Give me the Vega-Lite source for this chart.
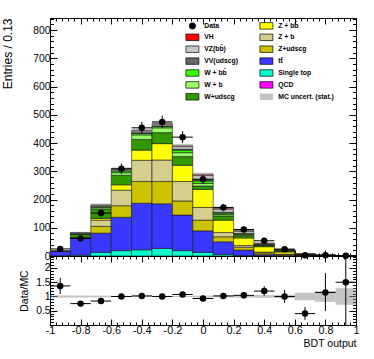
{
  "$schema": "https://vega.github.io/schema/vega-lite/v6.json",
  "padding": {"left": 1, "top": 13, "right": 5, "bottom": 5},
  "spacing": 0,
  "bounds": "flush",
  "config": {
    "font": "Liberation Sans",
    "view": {"stroke": "black", "strokeWidth": 1},
    "axis": {"labelFont": "Liberation Sans", "labelFontSize": 10.3, "labelColor": "black", "titleFont": "Liberation Sans", "titleFontSize": 10.5, "titleFontWeight": "normal", "titleColor": "black", "domain": false, "grid": false, "tickColor": "black", "labelFlush": false, "labelOverlap": false}
  },
  "datasets": {
    "mc": [
      {"lo": -1, "hi": -0.8667, "process": "Single top", "value": 1},
      {"lo": -1, "hi": -0.8667, "process": "tt\u0304", "value": 15},
      {"lo": -1, "hi": -0.8667, "process": "Z+udscg", "value": 0.5},
      {"lo": -1, "hi": -0.8667, "process": "Z + b", "value": 0.3},
      {"lo": -1, "hi": -0.8667, "process": "Z + bb\u0304", "value": 0.2},
      {"lo": -1, "hi": -0.8667, "process": "W+udscg", "value": 0.5},
      {"lo": -1, "hi": -0.8667, "process": "W + b", "value": 0.2},
      {"lo": -1, "hi": -0.8667, "process": "W + bb\u0304", "value": 0.1},
      {"lo": -1, "hi": -0.8667, "process": "VV(udscg)", "value": 0.5},
      {"lo": -1, "hi": -0.8667, "process": "VZ(bb\u0304)", "value": 0.5},
      {"lo": -0.8667, "hi": -0.7333, "process": "Single top", "value": 3},
      {"lo": -0.8667, "hi": -0.7333, "process": "tt\u0304", "value": 60},
      {"lo": -0.8667, "hi": -0.7333, "process": "Z+udscg", "value": 1},
      {"lo": -0.8667, "hi": -0.7333, "process": "Z + b", "value": 1},
      {"lo": -0.8667, "hi": -0.7333, "process": "Z + bb\u0304", "value": 0.5},
      {"lo": -0.8667, "hi": -0.7333, "process": "W+udscg", "value": 11},
      {"lo": -0.8667, "hi": -0.7333, "process": "W + b", "value": 1},
      {"lo": -0.8667, "hi": -0.7333, "process": "W + bb\u0304", "value": 0.5},
      {"lo": -0.8667, "hi": -0.7333, "process": "VV(udscg)", "value": 3},
      {"lo": -0.8667, "hi": -0.7333, "process": "VZ(bb\u0304)", "value": 1.5},
      {"lo": -0.8667, "hi": -0.7333, "process": "VH", "value": 0.1},
      {"lo": -0.7333, "hi": -0.6, "process": "Single top", "value": 13},
      {"lo": -0.7333, "hi": -0.6, "process": "tt\u0304", "value": 68},
      {"lo": -0.7333, "hi": -0.6, "process": "Z+udscg", "value": 24},
      {"lo": -0.7333, "hi": -0.6, "process": "Z + b", "value": 22},
      {"lo": -0.7333, "hi": -0.6, "process": "Z + bb\u0304", "value": 6},
      {"lo": -0.7333, "hi": -0.6, "process": "W+udscg", "value": 33},
      {"lo": -0.7333, "hi": -0.6, "process": "W + b", "value": 5},
      {"lo": -0.7333, "hi": -0.6, "process": "W + bb\u0304", "value": 3},
      {"lo": -0.7333, "hi": -0.6, "process": "VV(udscg)", "value": 2},
      {"lo": -0.7333, "hi": -0.6, "process": "VZ(bb\u0304)", "value": 4},
      {"lo": -0.7333, "hi": -0.6, "process": "VH", "value": 0.3},
      {"lo": -0.6, "hi": -0.4667, "process": "Single top", "value": 19},
      {"lo": -0.6, "hi": -0.4667, "process": "tt\u0304", "value": 118},
      {"lo": -0.6, "hi": -0.4667, "process": "Z+udscg", "value": 41},
      {"lo": -0.6, "hi": -0.4667, "process": "Z + b", "value": 55},
      {"lo": -0.6, "hi": -0.4667, "process": "Z + bb\u0304", "value": 19},
      {"lo": -0.6, "hi": -0.4667, "process": "W+udscg", "value": 34},
      {"lo": -0.6, "hi": -0.4667, "process": "W + b", "value": 9},
      {"lo": -0.6, "hi": -0.4667, "process": "W + bb\u0304", "value": 6},
      {"lo": -0.6, "hi": -0.4667, "process": "VV(udscg)", "value": 2},
      {"lo": -0.6, "hi": -0.4667, "process": "VZ(bb\u0304)", "value": 4},
      {"lo": -0.6, "hi": -0.4667, "process": "VH", "value": 0.5},
      {"lo": -0.4667, "hi": -0.3333, "process": "Single top", "value": 22},
      {"lo": -0.4667, "hi": -0.3333, "process": "tt\u0304", "value": 165},
      {"lo": -0.4667, "hi": -0.3333, "process": "Z+udscg", "value": 77},
      {"lo": -0.4667, "hi": -0.3333, "process": "Z + b", "value": 75},
      {"lo": -0.4667, "hi": -0.3333, "process": "Z + bb\u0304", "value": 36},
      {"lo": -0.4667, "hi": -0.3333, "process": "W+udscg", "value": 38},
      {"lo": -0.4667, "hi": -0.3333, "process": "W + b", "value": 16},
      {"lo": -0.4667, "hi": -0.3333, "process": "W + bb\u0304", "value": 5},
      {"lo": -0.4667, "hi": -0.3333, "process": "VV(udscg)", "value": 3},
      {"lo": -0.4667, "hi": -0.3333, "process": "VZ(bb\u0304)", "value": 6},
      {"lo": -0.4667, "hi": -0.3333, "process": "VH", "value": 1},
      {"lo": -0.3333, "hi": -0.2, "process": "Single top", "value": 27},
      {"lo": -0.3333, "hi": -0.2, "process": "tt\u0304", "value": 158},
      {"lo": -0.3333, "hi": -0.2, "process": "Z+udscg", "value": 79},
      {"lo": -0.3333, "hi": -0.2, "process": "Z + b", "value": 76},
      {"lo": -0.3333, "hi": -0.2, "process": "Z + bb\u0304", "value": 58},
      {"lo": -0.3333, "hi": -0.2, "process": "W+udscg", "value": 39},
      {"lo": -0.3333, "hi": -0.2, "process": "W + b", "value": 17},
      {"lo": -0.3333, "hi": -0.2, "process": "W + bb\u0304", "value": 5},
      {"lo": -0.3333, "hi": -0.2, "process": "VV(udscg)", "value": 2},
      {"lo": -0.3333, "hi": -0.2, "process": "VZ(bb\u0304)", "value": 6},
      {"lo": -0.3333, "hi": -0.2, "process": "VH", "value": 1},
      {"lo": -0.2, "hi": -0.0667, "process": "Single top", "value": 19},
      {"lo": -0.2, "hi": -0.0667, "process": "tt\u0304", "value": 126},
      {"lo": -0.2, "hi": -0.0667, "process": "Z+udscg", "value": 50},
      {"lo": -0.2, "hi": -0.0667, "process": "Z + b", "value": 69},
      {"lo": -0.2, "hi": -0.0667, "process": "Z + bb\u0304", "value": 57},
      {"lo": -0.2, "hi": -0.0667, "process": "W+udscg", "value": 31},
      {"lo": -0.2, "hi": -0.0667, "process": "W + b", "value": 14},
      {"lo": -0.2, "hi": -0.0667, "process": "W + bb\u0304", "value": 9},
      {"lo": -0.2, "hi": -0.0667, "process": "VV(udscg)", "value": 3},
      {"lo": -0.2, "hi": -0.0667, "process": "VZ(bb\u0304)", "value": 10},
      {"lo": -0.2, "hi": -0.0667, "process": "VH", "value": 2},
      {"lo": -0.0667, "hi": 0.0667, "process": "Single top", "value": 13},
      {"lo": -0.0667, "hi": 0.0667, "process": "tt\u0304", "value": 76},
      {"lo": -0.0667, "hi": 0.0667, "process": "Z+udscg", "value": 38},
      {"lo": -0.0667, "hi": 0.0667, "process": "Z + b", "value": 45},
      {"lo": -0.0667, "hi": 0.0667, "process": "Z + bb\u0304", "value": 64},
      {"lo": -0.0667, "hi": 0.0667, "process": "W+udscg", "value": 12},
      {"lo": -0.0667, "hi": 0.0667, "process": "W + b", "value": 9},
      {"lo": -0.0667, "hi": 0.0667, "process": "W + bb\u0304", "value": 9},
      {"lo": -0.0667, "hi": 0.0667, "process": "VV(udscg)", "value": 4},
      {"lo": -0.0667, "hi": 0.0667, "process": "VZ(bb\u0304)", "value": 15},
      {"lo": -0.0667, "hi": 0.0667, "process": "VH", "value": 4},
      {"lo": 0.0667, "hi": 0.2, "process": "Single top", "value": 5},
      {"lo": 0.0667, "hi": 0.2, "process": "tt\u0304", "value": 45},
      {"lo": 0.0667, "hi": 0.2, "process": "Z+udscg", "value": 18},
      {"lo": 0.0667, "hi": 0.2, "process": "Z + b", "value": 15},
      {"lo": 0.0667, "hi": 0.2, "process": "Z + bb\u0304", "value": 44},
      {"lo": 0.0667, "hi": 0.2, "process": "W+udscg", "value": 15},
      {"lo": 0.0667, "hi": 0.2, "process": "W + b", "value": 5},
      {"lo": 0.0667, "hi": 0.2, "process": "W + bb\u0304", "value": 5},
      {"lo": 0.0667, "hi": 0.2, "process": "VV(udscg)", "value": 3},
      {"lo": 0.0667, "hi": 0.2, "process": "VZ(bb\u0304)", "value": 11},
      {"lo": 0.0667, "hi": 0.2, "process": "VH", "value": 3},
      {"lo": 0.2, "hi": 0.3333, "process": "Single top", "value": 2},
      {"lo": 0.2, "hi": 0.3333, "process": "tt\u0304", "value": 19},
      {"lo": 0.2, "hi": 0.3333, "process": "Z+udscg", "value": 10},
      {"lo": 0.2, "hi": 0.3333, "process": "Z + b", "value": 6},
      {"lo": 0.2, "hi": 0.3333, "process": "Z + bb\u0304", "value": 27},
      {"lo": 0.2, "hi": 0.3333, "process": "W+udscg", "value": 8},
      {"lo": 0.2, "hi": 0.3333, "process": "W + b", "value": 3},
      {"lo": 0.2, "hi": 0.3333, "process": "W + bb\u0304", "value": 3},
      {"lo": 0.2, "hi": 0.3333, "process": "VV(udscg)", "value": 2},
      {"lo": 0.2, "hi": 0.3333, "process": "VZ(bb\u0304)", "value": 8},
      {"lo": 0.2, "hi": 0.3333, "process": "VH", "value": 2},
      {"lo": 0.3333, "hi": 0.4667, "process": "Single top", "value": 1},
      {"lo": 0.3333, "hi": 0.4667, "process": "tt\u0304", "value": 4},
      {"lo": 0.3333, "hi": 0.4667, "process": "Z+udscg", "value": 6},
      {"lo": 0.3333, "hi": 0.4667, "process": "Z + b", "value": 3},
      {"lo": 0.3333, "hi": 0.4667, "process": "Z + bb\u0304", "value": 19},
      {"lo": 0.3333, "hi": 0.4667, "process": "W+udscg", "value": 4},
      {"lo": 0.3333, "hi": 0.4667, "process": "W + b", "value": 1.5},
      {"lo": 0.3333, "hi": 0.4667, "process": "W + bb\u0304", "value": 1.5},
      {"lo": 0.3333, "hi": 0.4667, "process": "VV(udscg)", "value": 1},
      {"lo": 0.3333, "hi": 0.4667, "process": "VZ(bb\u0304)", "value": 3},
      {"lo": 0.3333, "hi": 0.4667, "process": "VH", "value": 1.5},
      {"lo": 0.4667, "hi": 0.6, "process": "Single top", "value": 0.5},
      {"lo": 0.4667, "hi": 0.6, "process": "tt\u0304", "value": 1.5},
      {"lo": 0.4667, "hi": 0.6, "process": "Z+udscg", "value": 3},
      {"lo": 0.4667, "hi": 0.6, "process": "Z + b", "value": 1.5},
      {"lo": 0.4667, "hi": 0.6, "process": "Z + bb\u0304", "value": 8},
      {"lo": 0.4667, "hi": 0.6, "process": "W+udscg", "value": 3},
      {"lo": 0.4667, "hi": 0.6, "process": "W + b", "value": 1},
      {"lo": 0.4667, "hi": 0.6, "process": "W + bb\u0304", "value": 1},
      {"lo": 0.4667, "hi": 0.6, "process": "VV(udscg)", "value": 1},
      {"lo": 0.4667, "hi": 0.6, "process": "VZ(bb\u0304)", "value": 2.5},
      {"lo": 0.4667, "hi": 0.6, "process": "VH", "value": 1},
      {"lo": 0.6, "hi": 0.7333, "process": "Single top", "value": 0.1},
      {"lo": 0.6, "hi": 0.7333, "process": "tt\u0304", "value": 0.5},
      {"lo": 0.6, "hi": 0.7333, "process": "Z+udscg", "value": 0.8},
      {"lo": 0.6, "hi": 0.7333, "process": "Z + b", "value": 0.5},
      {"lo": 0.6, "hi": 0.7333, "process": "Z + bb\u0304", "value": 2.5},
      {"lo": 0.6, "hi": 0.7333, "process": "W+udscg", "value": 1},
      {"lo": 0.6, "hi": 0.7333, "process": "W + b", "value": 0.3},
      {"lo": 0.6, "hi": 0.7333, "process": "W + bb\u0304", "value": 0.4},
      {"lo": 0.6, "hi": 0.7333, "process": "VV(udscg)", "value": 0.3},
      {"lo": 0.6, "hi": 0.7333, "process": "VZ(bb\u0304)", "value": 0.8},
      {"lo": 0.6, "hi": 0.7333, "process": "VH", "value": 0.4},
      {"lo": 0.7333, "hi": 0.8667, "process": "tt\u0304", "value": 0.2},
      {"lo": 0.7333, "hi": 0.8667, "process": "Z+udscg", "value": 0.3},
      {"lo": 0.7333, "hi": 0.8667, "process": "Z + b", "value": 0.2},
      {"lo": 0.7333, "hi": 0.8667, "process": "Z + bb\u0304", "value": 0.8},
      {"lo": 0.7333, "hi": 0.8667, "process": "W+udscg", "value": 0.3},
      {"lo": 0.7333, "hi": 0.8667, "process": "W + b", "value": 0.1},
      {"lo": 0.7333, "hi": 0.8667, "process": "W + bb\u0304", "value": 0.2},
      {"lo": 0.7333, "hi": 0.8667, "process": "VV(udscg)", "value": 0.1},
      {"lo": 0.7333, "hi": 0.8667, "process": "VZ(bb\u0304)", "value": 0.2},
      {"lo": 0.7333, "hi": 0.8667, "process": "VH", "value": 0.2},
      {"lo": 0.8667, "hi": 1, "process": "Z+udscg", "value": 0.07},
      {"lo": 0.8667, "hi": 1, "process": "Z + bb\u0304", "value": 0.3},
      {"lo": 0.8667, "hi": 1, "process": "W+udscg", "value": 0.1},
      {"lo": 0.8667, "hi": 1, "process": "VZ(bb\u0304)", "value": 0.1},
      {"lo": 0.8667, "hi": 1, "process": "VH", "value": 0.1}
    ],
    "tot": [
      {"lo": -1, "hi": -0.8667, "blo": 16.8, "bhi": 20.8},
      {"lo": -0.8667, "hi": -0.7333, "blo": 79.6, "bhi": 85.6},
      {"lo": -0.7333, "hi": -0.6, "blo": 175.3, "bhi": 185.3},
      {"lo": -0.6, "hi": -0.4667, "blo": 301.5, "bhi": 313.5},
      {"lo": -0.4667, "hi": -0.3333, "blo": 437, "bhi": 451},
      {"lo": -0.3333, "hi": -0.2, "blo": 461, "bhi": 475},
      {"lo": -0.2, "hi": -0.0667, "blo": 383, "bhi": 397},
      {"lo": -0.0667, "hi": 0.0667, "blo": 283, "bhi": 295},
      {"lo": 0.0667, "hi": 0.2, "blo": 164, "bhi": 174},
      {"lo": 0.2, "hi": 0.3333, "blo": 86, "bhi": 94},
      {"lo": 0.3333, "hi": 0.4667, "blo": 43, "bhi": 48},
      {"lo": 0.4667, "hi": 0.6, "blo": 22.5, "bhi": 25.5},
      {"lo": 0.6, "hi": 0.7333, "blo": 6.6, "bhi": 8.6},
      {"lo": 0.7333, "hi": 0.8667, "blo": 2.1, "bhi": 3.1},
      {"lo": 0.8667, "hi": 1, "blo": 0.47, "bhi": 0.87}
    ],
    "pts": [
      {"lo": -1, "hi": -0.8667, "c": -0.9333, "n": 25, "nlo": 20, "nhi": 30},
      {"lo": -0.8667, "hi": -0.7333, "c": -0.8, "n": 62, "nlo": 54, "nhi": 70},
      {"lo": -0.7333, "hi": -0.6, "c": -0.6667, "n": 152, "nlo": 140, "nhi": 164},
      {"lo": -0.6, "hi": -0.4667, "c": -0.5333, "n": 309, "nlo": 291, "nhi": 327},
      {"lo": -0.4667, "hi": -0.3333, "c": -0.4, "n": 454, "nlo": 433, "nhi": 475},
      {"lo": -0.3333, "hi": -0.2, "c": -0.2667, "n": 475, "nlo": 453, "nhi": 497},
      {"lo": -0.2, "hi": -0.0667, "c": -0.1333, "n": 421, "nlo": 400, "nhi": 442},
      {"lo": -0.0667, "hi": 0.0667, "c": 0, "n": 272, "nlo": 256, "nhi": 288},
      {"lo": 0.0667, "hi": 0.2, "c": 0.1333, "n": 172, "nlo": 159, "nhi": 185},
      {"lo": 0.2, "hi": 0.3333, "c": 0.2667, "n": 94, "nlo": 84, "nhi": 104},
      {"lo": 0.3333, "hi": 0.4667, "c": 0.4, "n": 54, "nlo": 47, "nhi": 61},
      {"lo": 0.4667, "hi": 0.6, "c": 0.5333, "n": 24, "nlo": 19, "nhi": 29},
      {"lo": 0.6, "hi": 0.7333, "c": 0.6667, "n": 3, "nlo": 1.3, "nhi": 4.7},
      {"lo": 0.7333, "hi": 0.8667, "c": 0.8, "n": 3, "nlo": 1.3, "nhi": 4.7},
      {"lo": 0.8667, "hi": 1, "c": 0.9333, "n": 1, "nlo": 0, "nhi": 2}
    ],
    "ratio": [
      {"lo": -1, "hi": -0.8667, "c": -0.9333, "r": 1.37, "elo": 1.09, "ehi": 1.65, "blo": 0.96, "bhi": 1.04},
      {"lo": -0.8667, "hi": -0.7333, "c": -0.8, "r": 0.75, "elo": 0.66, "ehi": 0.84, "blo": 0.965, "bhi": 1.035},
      {"lo": -0.7333, "hi": -0.6, "c": -0.6667, "r": 0.84, "elo": 0.78, "ehi": 0.91, "blo": 0.97, "bhi": 1.03},
      {"lo": -0.6, "hi": -0.4667, "c": -0.5333, "r": 1.0, "elo": 0.95, "ehi": 1.06, "blo": 0.98, "bhi": 1.02},
      {"lo": -0.4667, "hi": -0.3333, "c": -0.4, "r": 1.02, "elo": 0.97, "ehi": 1.07, "blo": 0.98, "bhi": 1.02},
      {"lo": -0.3333, "hi": -0.2, "c": -0.2667, "r": 1.0, "elo": 0.95, "ehi": 1.05, "blo": 0.98, "bhi": 1.02},
      {"lo": -0.2, "hi": -0.0667, "c": -0.1333, "r": 1.07, "elo": 1.02, "ehi": 1.12, "blo": 0.98, "bhi": 1.02},
      {"lo": -0.0667, "hi": 0.0667, "c": 0, "r": 0.93, "elo": 0.87, "ehi": 0.99, "blo": 0.97, "bhi": 1.03},
      {"lo": 0.0667, "hi": 0.2, "c": 0.1333, "r": 1.02, "elo": 0.94, "ehi": 1.1, "blo": 0.97, "bhi": 1.03},
      {"lo": 0.2, "hi": 0.3333, "c": 0.2667, "r": 1.04, "elo": 0.93, "ehi": 1.15, "blo": 0.96, "bhi": 1.04},
      {"lo": 0.3333, "hi": 0.4667, "c": 0.4, "r": 1.19, "elo": 1.03, "ehi": 1.36, "blo": 0.95, "bhi": 1.05},
      {"lo": 0.4667, "hi": 0.6, "c": 0.5333, "r": 1.0, "elo": 0.77, "ehi": 1.23, "blo": 0.94, "bhi": 1.06},
      {"lo": 0.6, "hi": 0.7333, "c": 0.6667, "r": 0.4, "elo": 0.18, "ehi": 0.63, "blo": 0.87, "bhi": 1.13},
      {"lo": 0.7333, "hi": 0.8667, "c": 0.8, "r": 1.14, "elo": 0.49, "ehi": 1.82, "blo": 0.81, "bhi": 1.19},
      {"lo": 0.8667, "hi": 1, "c": 0.9333, "r": 1.5, "elo": 0, "ehi": 2.42, "blo": 0.71, "bhi": 1.29}
    ]
  },
  "vconcat": [
    {
      "width": 306,
      "height": 238,
      "layer": [
        {
          "data": {"name": "mc"},
          "transform": [
            {"calculate": "indexof(['QCD','Single top','tt\u0304','Z+udscg','Z + b','Z + bb\u0304','W+udscg','W + b','W + bb\u0304','VV(udscg)','VZ(bb\u0304)','VH'], datum.process)", "as": "ord"},
            {"stack": "value", "groupby": ["lo"], "sort": [{"field": "ord", "order": "ascending"}], "as": ["v0", "v1"]}
          ],
          "mark": {"type": "bar", "stroke": "#1a1a1a", "strokeWidth": 0.6},
          "encoding": {
            "x": {"field": "lo", "type": "quantitative", "scale": {"domain": [-1, 1], "nice": false, "zero": false},
                  "axis": {"orient": "bottom", "title": null, "labels": false,
                           "values": [-1,-0.96,-0.92,-0.88,-0.84,-0.8,-0.76,-0.72,-0.68,-0.64,-0.6,-0.56,-0.52,-0.48,-0.44,-0.4,-0.36,-0.32,-0.28,-0.24,-0.2,-0.16,-0.12,-0.08,-0.04,0,0.04,0.08,0.12,0.16,0.2,0.24,0.28,0.32,0.36,0.4,0.44,0.48,0.52,0.56,0.6,0.64,0.68,0.72,0.76,0.8,0.84,0.88,0.92,0.96,1],
                           "tickSize": {"condition": {"test": "abs(datum.value*5 - round(datum.value*5)) < 0.001", "value": -6}, "value": -3}}},
            "x2": {"field": "hi"},
            "y": {"field": "v0", "type": "quantitative", "scale": {"domain": [0, 843], "nice": false},
                  "axis": {"orient": "left", "title": "Entries / 0.13", "titleAnchor": "end", "titlePadding": 18, "titleFontSize": 12,
                           "values": [0,20,40,60,80,100,120,140,160,180,200,220,240,260,280,300,320,340,360,380,400,420,440,460,480,500,520,540,560,580,600,620,640,660,680,700,720,740,760,780,800,820,840],
                           "labelExpr": "datum.value % 100 === 0 ? toString(datum.value) : ''",
                           "labelPadding": 7,
                           "tickSize": {"condition": {"test": "datum.value % 100 === 0", "value": -7}, "value": -3.5}}},
            "y2": {"field": "v1"},
            "color": {
              "field": "process", "type": "nominal",
              "scale": {
                "domain": ["Data", "VH", "VZ(bb\u0304)", "VV(udscg)", "W + bb\u0304", "W + b", "W+udscg", "Z + bb\u0304", "Z + b", "Z+udscg", "tt\u0304", "Single top", "QCD", "MC uncert. (stat.)"],
                "range": ["#000000", "#ff0000", "#c8c8c8", "#666666", "#33ff00", "#99ff66", "#339900", "#ffff00", "#d5cf8e", "#ccc200", "#3838ff", "#00ffcc", "#ff00ff", "#c4c4c4"]
              },
              "legend": {
                "orient": "none", "legendX": 139, "legendY": 4, "columns": 2, "title": null,
                "labelFont": "Liberation Sans", "labelFontSize": 6.8, "labelFontWeight": "bold", "labelColor": "black",
                "symbolType": "M-2,-1H2V1H-2Z", "symbolSize": 42, "symbolStrokeColor": "black", "symbolStrokeWidth": 0.7,
                "rowPadding": 0.9, "columnPadding": 20, "labelOffset": 8.5,
                "encode": {
                  "symbols": {
                    "update": {
                      "shape": {"signal": "datum.value === 'Data' ? 'circle' : 'M-2,-1H2V1H-2Z'"},
                      "size": {"signal": "datum.value === 'Data' ? 40 : 42"},
                      "strokeWidth": {"signal": "datum.value === 'MC uncert. (stat.)' ? 0 : 0.7"}
                    }
                  }
                }
              }
            }
          }
        },
        {
          "data": {"name": "tot"},
          "mark": {"type": "rect", "fill": "#8a8a8a", "opacity": 0.55},
          "encoding": {
            "x": {"field": "lo", "type": "quantitative",
                  "axis": {"orient": "top", "title": null, "labels": false,
                           "values": [-1,-0.96,-0.92,-0.88,-0.84,-0.8,-0.76,-0.72,-0.68,-0.64,-0.6,-0.56,-0.52,-0.48,-0.44,-0.4,-0.36,-0.32,-0.28,-0.24,-0.2,-0.16,-0.12,-0.08,-0.04,0,0.04,0.08,0.12,0.16,0.2,0.24,0.28,0.32,0.36,0.4,0.44,0.48,0.52,0.56,0.6,0.64,0.68,0.72,0.76,0.8,0.84,0.88,0.92,0.96,1],
                           "tickSize": {"condition": {"test": "abs(datum.value*5 - round(datum.value*5)) < 0.001", "value": -6}, "value": -3}}},
            "x2": {"field": "hi"},
            "y": {"field": "blo", "type": "quantitative",
                  "axis": {"orient": "right", "title": null, "labels": false,
                           "values": [0,20,40,60,80,100,120,140,160,180,200,220,240,260,280,300,320,340,360,380,400,420,440,460,480,500,520,540,560,580,600,620,640,660,680,700,720,740,760,780,800,820,840],
                           "tickSize": {"condition": {"test": "datum.value % 100 === 0", "value": -7}, "value": -3.5}}},
            "y2": {"field": "bhi"}
          }
        },
        {
          "data": {"name": "pts"},
          "mark": {"type": "rule", "color": "black", "strokeWidth": 1},
          "encoding": {
            "x": {"field": "c", "type": "quantitative", "axis": null},
            "y": {"field": "nlo", "type": "quantitative", "axis": null},
            "y2": {"field": "nhi"}
          }
        },
        {
          "data": {"name": "pts"},
          "mark": {"type": "rule", "color": "black", "strokeWidth": 1},
          "encoding": {
            "x": {"field": "lo", "type": "quantitative", "axis": null},
            "x2": {"field": "hi"},
            "y": {"field": "n", "type": "quantitative", "axis": null}
          }
        },
        {
          "data": {"name": "pts"},
          "mark": {"type": "point", "filled": true, "color": "black", "opacity": 1, "size": 42, "shape": "circle"},
          "encoding": {
            "x": {"field": "c", "type": "quantitative", "axis": null},
            "y": {"field": "n", "type": "quantitative", "axis": null}
          }
        },
        {
          "mark": {"type": "text", "text": "CMS", "font": "Liberation Sans", "fontWeight": "bold", "fontSize": 11.5, "align": "left", "baseline": "middle", "color": "black"},
          "encoding": {
            "x": {"datum": -0.915, "type": "quantitative", "axis": null},
            "y": {"datum": 798, "type": "quantitative", "axis": null}
          }
        },
        {
          "mark": {"type": "text", "text": "\u221as =  8TeV, L = 18.9 fb\u207b\u00b9", "font": "Liberation Sans", "fontWeight": "bold", "fontSize": 7.5, "align": "left", "baseline": "middle", "color": "black"},
          "encoding": {
            "x": {"datum": -0.915, "type": "quantitative", "axis": null},
            "y": {"datum": 750, "type": "quantitative", "axis": null}
          }
        },
        {
          "mark": {"type": "text", "text": "Z(\u03bd\u03bd)H(bb\u0304)", "font": "Liberation Sans", "fontWeight": "bold", "fontSize": 7.5, "align": "left", "baseline": "middle", "color": "black"},
          "encoding": {
            "x": {"datum": -0.915, "type": "quantitative", "axis": null},
            "y": {"datum": 703, "type": "quantitative", "axis": null}
          }
        },
        {
          "mark": {"type": "text", "text": "Z+bb\u0304 enriched", "font": "Liberation Sans", "fontWeight": "bold", "fontSize": 7.5, "align": "left", "baseline": "middle", "color": "black"},
          "encoding": {
            "x": {"datum": -0.915, "type": "quantitative", "axis": null},
            "y": {"datum": 666, "type": "quantitative", "axis": null}
          }
        }
      ],
      "resolve": {"axis": {"x": "independent", "y": "independent"}}
    },
    {
      "width": 306,
      "height": 69,
      "layer": [
        {
          "data": {"name": "ratio"},
          "mark": {"type": "rect", "fill": "#8a8a8a", "opacity": 0.5},
          "encoding": {
            "x": {"field": "lo", "type": "quantitative", "scale": {"domain": [-1, 1], "nice": false, "zero": false},
                  "axis": {"orient": "bottom", "title": "BDT output", "titleAnchor": "end", "titlePadding": 1,
                           "values": [-1,-0.96,-0.92,-0.88,-0.84,-0.8,-0.76,-0.72,-0.68,-0.64,-0.6,-0.56,-0.52,-0.48,-0.44,-0.4,-0.36,-0.32,-0.28,-0.24,-0.2,-0.16,-0.12,-0.08,-0.04,0,0.04,0.08,0.12,0.16,0.2,0.24,0.28,0.32,0.36,0.4,0.44,0.48,0.52,0.56,0.6,0.64,0.68,0.72,0.76,0.8,0.84,0.88,0.92,0.96,1],
                           "labelExpr": "abs(datum.value*5 - round(datum.value*5)) < 0.001 ? toString(round(datum.value*10)/10) : ''",
                           "labelPadding": 5, "labelFontSize": 10.8,
                           "tickSize": {"condition": {"test": "abs(datum.value*5 - round(datum.value*5)) < 0.001", "value": -6}, "value": -3}}},
            "x2": {"field": "hi"},
            "y": {"field": "blo", "type": "quantitative", "scale": {"domain": [0, 2.42], "nice": false},
                  "axis": {"orient": "left", "title": "Data/MC", "titlePadding": 6,
                           "values": [0.1,0.2,0.3,0.4,0.5,0.6,0.7,0.8,0.9,1,1.1,1.2,1.3,1.4,1.5,1.6,1.7,1.8,1.9,2,2.1,2.2,2.3,2.4],
                           "labelExpr": "abs(datum.value*2 - round(datum.value*2)) < 0.001 ? toString(round(datum.value*10)/10) : ''",
                           "labelPadding": 7,
                           "tickSize": {"condition": {"test": "abs(datum.value*2 - round(datum.value*2)) < 0.001", "value": -7}, "value": -3.5}}},
            "y2": {"field": "bhi"}
          }
        },
        {
          "mark": {"type": "rule", "color": "black", "strokeWidth": 1, "strokeDash": [2, 2]},
          "encoding": {
            "y": {"datum": 1, "type": "quantitative", "axis": null}
          }
        },
        {
          "data": {"name": "ratio"},
          "mark": {"type": "rule", "color": "black", "strokeWidth": 1},
          "encoding": {
            "x": {"field": "c", "type": "quantitative",
                  "axis": {"orient": "top", "title": null, "labels": false,
                           "values": [-1,-0.96,-0.92,-0.88,-0.84,-0.8,-0.76,-0.72,-0.68,-0.64,-0.6,-0.56,-0.52,-0.48,-0.44,-0.4,-0.36,-0.32,-0.28,-0.24,-0.2,-0.16,-0.12,-0.08,-0.04,0,0.04,0.08,0.12,0.16,0.2,0.24,0.28,0.32,0.36,0.4,0.44,0.48,0.52,0.56,0.6,0.64,0.68,0.72,0.76,0.8,0.84,0.88,0.92,0.96,1],
                           "tickSize": {"condition": {"test": "abs(datum.value*5 - round(datum.value*5)) < 0.001", "value": -6}, "value": -3}}},
            "y": {"field": "elo", "type": "quantitative",
                  "axis": {"orient": "right", "title": null, "labels": false,
                           "values": [0.1,0.2,0.3,0.4,0.5,0.6,0.7,0.8,0.9,1,1.1,1.2,1.3,1.4,1.5,1.6,1.7,1.8,1.9,2,2.1,2.2,2.3,2.4],
                           "tickSize": {"condition": {"test": "abs(datum.value*2 - round(datum.value*2)) < 0.001", "value": -7}, "value": -3.5}}},
            "y2": {"field": "ehi"}
          }
        },
        {
          "data": {"name": "ratio"},
          "mark": {"type": "rule", "color": "black", "strokeWidth": 1},
          "encoding": {
            "x": {"field": "lo", "type": "quantitative", "axis": null},
            "x2": {"field": "hi"},
            "y": {"field": "r", "type": "quantitative", "axis": null}
          }
        },
        {
          "data": {"name": "ratio"},
          "mark": {"type": "point", "filled": true, "color": "black", "opacity": 1, "size": 42, "shape": "circle"},
          "encoding": {
            "x": {"field": "c", "type": "quantitative", "axis": null},
            "y": {"field": "r", "type": "quantitative", "axis": null}
          }
        },
        {
          "mark": {"type": "text", "text": "\u03c7\u00b2 / dof  = 1.23", "font": "Liberation Sans", "fontWeight": "bold", "fontSize": 6.8, "align": "left", "baseline": "middle", "color": "black"},
          "encoding": {
            "x": {"datum": -0.88, "type": "quantitative", "axis": null},
            "y": {"datum": 2.14, "type": "quantitative", "axis": null}
          }
        },
        {
          "mark": {"type": "rect", "fill": "#c4c4c4", "stroke": "#888888", "strokeWidth": 0.5},
          "encoding": {
            "x": {"datum": -0.346, "type": "quantitative", "axis": null},
            "x2": {"datum": -0.222},
            "y": {"datum": 2.05, "type": "quantitative", "axis": null},
            "y2": {"datum": 2.23}
          }
        },
        {
          "mark": {"type": "text", "text": "MC uncert. (stat.)", "font": "Liberation Sans", "fontWeight": "bold", "fontSize": 6.8, "align": "left", "baseline": "middle", "color": "black"},
          "encoding": {
            "x": {"datum": -0.2, "type": "quantitative", "axis": null},
            "y": {"datum": 2.14, "type": "quantitative", "axis": null}
          }
        }
      ],
      "resolve": {"axis": {"x": "independent", "y": "independent"}}
    }
  ]
}
